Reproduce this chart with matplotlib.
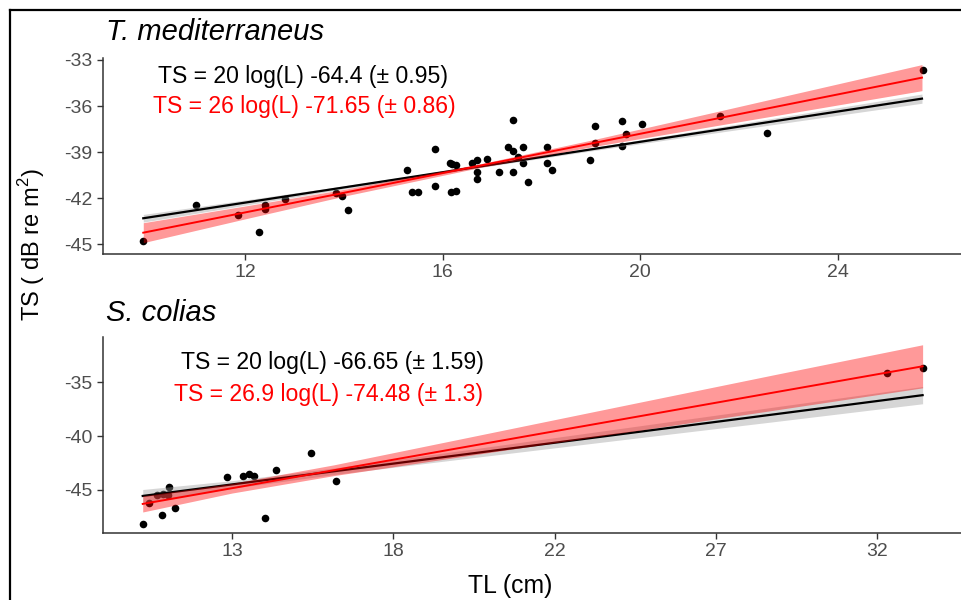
import matplotlib
matplotlib.use("Agg")
import matplotlib.pyplot as plt
from matplotlib.lines import Line2D
import numpy as np

plt.rcParams['font.family'] = ['Liberation Sans', 'DejaVu Sans']
plt.rcParams['mathtext.fontset'] = 'custom'
plt.rcParams['mathtext.rm'] = 'Liberation Sans'
plt.rcParams['axes.unicode_minus'] = False

# ---- T. mediterraneus (top panel) ----
tm_tl = [9.93, 11.01, 11.86, 12.28, 12.40, 12.40, 12.81, 13.84, 13.96, 14.09,
         15.27, 15.37, 15.50, 15.85, 15.85, 16.15, 16.18, 16.27, 16.16, 16.27,
         16.59, 16.70, 16.70, 16.70, 16.90, 17.13, 17.33, 17.43, 17.42, 17.42,
         17.53, 17.62, 17.62, 17.73, 18.12, 18.12, 18.21, 18.98, 19.09, 19.09,
         19.63, 19.63, 19.70, 20.04, 21.62, 22.56, 25.72]
tm_ts = [-44.78, -42.46, -43.10, -44.20, -42.46, -42.70, -42.05, -41.65, -41.87, -42.78,
         -40.17, -41.60, -41.60, -38.82, -41.22, -39.70, -39.78, -39.85, -41.60, -41.55,
         -39.70, -39.52, -40.28, -40.76, -39.47, -40.32, -38.65, -36.91, -38.93, -40.28,
         -39.30, -38.65, -39.70, -40.97, -38.65, -39.70, -40.17, -39.52, -37.30, -38.40,
         -37.00, -38.60, -37.84, -37.15, -36.65, -37.78, -33.65]

tm_fit_tl = [9.94, 12, 14, 16.8, 19, 21.5, 25.7]
tm_fit20 = [-43.32, -42.30, -41.31, -39.92, -38.83, -37.59, -35.52]
tm_se20 = [0.25, 0.17, 0.10, 0.07, 0.10, 0.17, 0.30]
tm_fit26 = [-44.26, -42.94, -41.66, -39.86, -38.45, -36.85, -34.15]
tm_se26 = [0.65, 0.42, 0.22, 0.12, 0.22, 0.45, 0.85]

# ---- S. colias (bottom panel) ----
sc_tl = [10.37, 10.56, 10.78, 10.96, 11.12, 11.14, 10.95, 11.32, 12.86, 13.33,
         13.51, 13.66, 13.97, 14.30, 15.34, 16.06, 32.28, 33.34]
sc_ts = [-48.12, -46.23, -45.50, -45.37, -45.50, -44.69, -47.31, -46.64, -43.80, -43.68,
         -43.49, -43.68, -47.62, -43.15, -41.55, -44.17, -34.10, -33.68]

sc_fit_tl = [10.37, 13, 16, 20, 25, 29, 33.34]
sc_fit20 = [-45.56, -44.49, -43.27, -41.64, -39.60, -37.97, -36.20]
sc_se20 = [0.60, 0.35, 0.30, 0.40, 0.55, 0.68, 0.80]
sc_fit27 = [-46.30, -44.84, -43.17, -40.94, -38.16, -35.93, -33.52]
sc_se27 = [0.75, 0.45, 0.50, 0.85, 1.30, 1.65, 2.00]

tm_xticks = [12, 16, 20, 24]
tm_yticks = [-45, -42, -39, -36, -33]
sc_xticks = [13, 17.75, 22.5, 27.25, 32]
sc_xlabels = ['13', '18', '22', '27', '32']
sc_yticks = [-45, -40, -35]

W, H = 962, 600
fig = plt.figure(figsize=(W / 100, H / 100), dpi=100)

def panel(rect, tl, ts, fx, f1, s1, f2, s2):
    ax = fig.add_axes(rect)
    ax.scatter(tl, ts, s=30, c='black', zorder=1, linewidths=0)
    f1, s1, f2, s2 = map(np.array, (f1, s1, f2, s2))
    ax.fill_between(fx, f1 - s1, f1 + s1, color='#999999', alpha=0.4, lw=0, zorder=2)
    ax.plot(fx, f1, color='black', lw=1.6, zorder=3)
    ax.fill_between(fx, f2 - s2, f2 + s2, color='red', alpha=0.4, lw=0, zorder=4)
    ax.plot(fx, f2, color='red', lw=1.4, zorder=5)
    for s in ['top', 'right']:
        ax.spines[s].set_visible(False)
    for s in ['left', 'bottom']:
        ax.spines[s].set_color('#333333')
        ax.spines[s].set_linewidth(1.1)
    ax.tick_params(length=4, width=1.0, color='#333333', labelcolor='#4D4D4D', labelsize=14)
    return ax

ax1 = panel([103 / W, 1 - 254 / H, 859 / W, 196 / H], tm_tl, tm_ts,
            tm_fit_tl, tm_fit20, tm_se20, tm_fit26, tm_se26)
ax1.set_xlim(9.125, 26.51)
ax1.set_ylim(-45.65, -32.87)
ax1.set_xticks(tm_xticks)
ax1.set_yticks(tm_yticks)

ax2 = panel([103 / W, 1 - 533 / H, 859 / W, 196 / H], sc_tl, sc_ts,
            sc_fit_tl, sc_fit20, sc_se20, sc_fit27, sc_se27)
ax2.set_xlim(9.2, 34.5)
ax2.set_ylim(-49.0, -30.8)
ax2.set_xticks(sc_xticks, sc_xlabels)
ax2.set_yticks(sc_yticks)

# titles and equations
fig.text(106 / W, 1 - 32 / H, 'T. mediterraneus', style='italic', fontsize=21, va='center', ha='left')
fig.text(106 / W, 1 - 313 / H, 'S. colias', style='italic', fontsize=21, va='center', ha='left')
fig.text(303 / W, 1 - 77 / H, 'TS = 20 log(L) -64.4 (± 0.95)', fontsize=16.6, ha='center', va='center')
fig.text(304 / W, 1 - 106 / H, 'TS = 26 log(L) -71.65 (± 0.86)', fontsize=16.6, color='red', ha='center', va='center')
fig.text(332 / W, 1 - 362 / H, 'TS = 20 log(L) -66.65 (± 1.59)', fontsize=16.6, ha='center', va='center')
fig.text(329 / W, 1 - 394 / H, 'TS = 26.9 log(L) -74.48 (± 1.3)', fontsize=16.6, color='red', ha='center', va='center')

fig.text(32 / W, 1 - 245 / H, 'TS ( dB re m$^{2}$)', rotation=90, fontsize=17, ha='center', va='center')
fig.text(510 / W, 1 - 586 / H, 'TL (cm)', fontsize=17.8, ha='center', va='center')

# outer frame (only left and top visible in this crop)
fig.add_artist(Line2D([9.5 / W, 9.5 / W], [0, 1 - 9.5 / H], color='black', lw=1.6))
fig.add_artist(Line2D([9.5 / W, 1], [1 - 9.5 / H, 1 - 9.5 / H], color='black', lw=1.6))

fig.savefig('out.png', dpi=100)
